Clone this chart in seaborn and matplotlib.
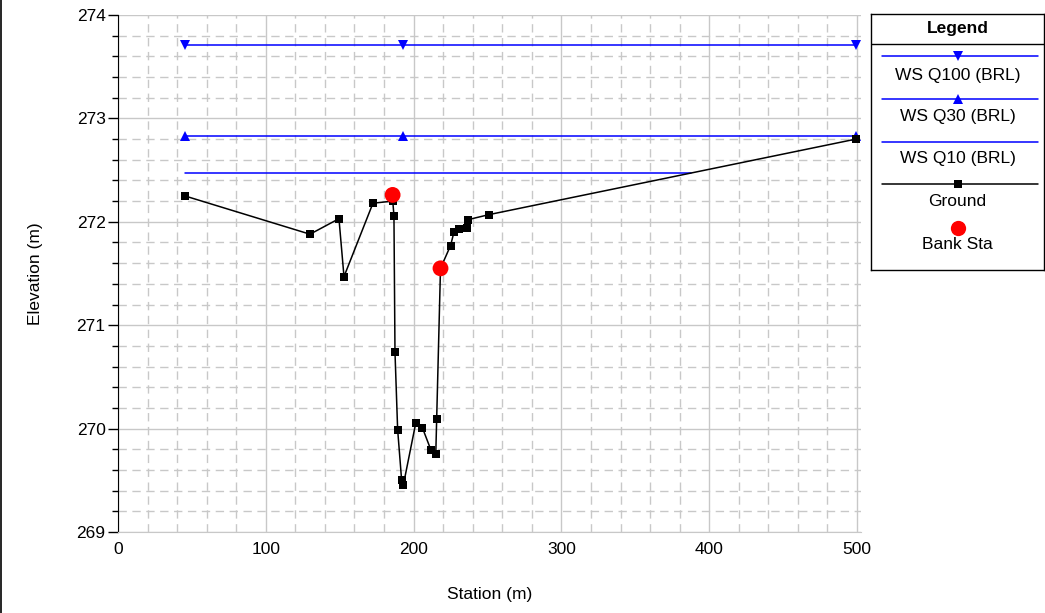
"""Cross section plot: ground profile, bank stations and water surfaces."""

import matplotlib
matplotlib.use("Agg")
import numpy as np
import pandas as pd
import matplotlib.pyplot as plt
import seaborn as sns
from matplotlib.ticker import MultipleLocator

# ground profile
ground_sta = [45.3, 129.9, 149.5, 152.9, 172.5, 185.9, 186.7, 187.4, 189.2, 191.9,
              193.0, 201.4, 205.9, 211.8, 215.0, 215.6, 218.2, 225.0, 227.3, 230.9,
              235.9, 236.6, 251.2, 499.3]
ground_elev = [272.25, 271.88, 272.03, 271.47, 272.18, 272.20, 272.06, 270.74, 269.99, 269.50,
               269.45, 270.05, 270.01, 269.79, 269.75, 270.09, 271.55, 271.77, 271.90, 271.93,
               271.94, 272.02, 272.07, 272.80]

# bank stations
bank_sta = [185.8, 218.2]
bank_elev = [272.26, 271.55]

# water surfaces
ws_q100_sta = [45.3, 192.8, 499.3]
ws_q100_elev = [273.71, 273.71, 273.71]
ws_q30_sta = [45.3, 192.8, 499.3]
ws_q30_elev = [272.83, 272.83, 272.83]
ws_q10_sta = [45.3, 387.9]
ws_q10_elev = [272.47, 272.47]

legend_labels = ["WS Q100 (BRL)", "WS Q30 (BRL)", "WS Q10 (BRL)", "Ground", "Bank Sta"]

sns.set_style("white")
plt.rcParams["font.family"] = ["Liberation Sans", "DejaVu Sans"]
plt.rcParams["text.color"] = "black"
plt.rcParams["axes.labelcolor"] = "black"
plt.rcParams["xtick.color"] = "black"
plt.rcParams["ytick.color"] = "black"
FS = 12.5

ground = pd.DataFrame({"sta": ground_sta, "elev": ground_elev})
bank = pd.DataFrame({"sta": bank_sta, "elev": bank_elev})
q100 = pd.DataFrame({"sta": ws_q100_sta, "elev": ws_q100_elev})
q30 = pd.DataFrame({"sta": ws_q30_sta, "elev": ws_q30_elev})
q10 = pd.DataFrame({"sta": ws_q10_sta, "elev": ws_q10_elev})

fig = plt.figure(figsize=(10.45, 6.13), dpi=100)
ax = fig.add_axes([118 / 1045, 1 - 532 / 613, (861 - 118) / 1045, (532 - 15) / 613])

blue = "#0000ff"
sns.lineplot(data=q100, x="sta", y="elev", ax=ax, color=blue, lw=1.1, marker="v",
             markersize=7, markeredgewidth=0, estimator=None, sort=False, zorder=3)
sns.lineplot(data=q30, x="sta", y="elev", ax=ax, color=blue, lw=1.1, marker="^",
             markersize=7, markeredgewidth=0, estimator=None, sort=False, zorder=3)
sns.lineplot(data=q10, x="sta", y="elev", ax=ax, color=blue, lw=1.1,
             estimator=None, sort=False, zorder=3)
sns.lineplot(data=ground, x="sta", y="elev", ax=ax, color="black", lw=1.1, marker="s",
             markersize=6.2, markeredgewidth=0, estimator=None, sort=False, zorder=4)
sns.scatterplot(data=bank, x="sta", y="elev", ax=ax, color="red", s=130,
                edgecolor="none", zorder=5)

ax.set_xlim(0, 502.7)
ax.set_ylim(269, 274)
ax.xaxis.set_major_locator(MultipleLocator(100))
ax.xaxis.set_minor_locator(MultipleLocator(20))
ax.yaxis.set_major_locator(MultipleLocator(1))
ax.yaxis.set_minor_locator(MultipleLocator(0.2))
ax.grid(which="major", color="#c8c8c8", lw=1.0)
ax.grid(which="minor", color="#c8c8c8", lw=1.0, ls=(0, (6, 4)))
ax.set_axisbelow(True)

for side in ["top", "right"]:
    ax.spines[side].set_visible(False)
ax.spines["left"].set_color("black")
ax.spines["bottom"].set_color("#c8c8c8")
ax.tick_params(axis="y", which="major", direction="out", length=7, width=1,
               color="black", labelsize=FS, left=True, pad=2)
ax.tick_params(axis="y", which="minor", direction="out", length=4, width=1,
               color="black", left=True)
ax.tick_params(axis="x", which="both", length=0, labelsize=FS, pad=7)
ax.set_xlabel("Station (m)", fontsize=FS, labelpad=22)
ax.set_ylabel("Elevation (m)", fontsize=FS, labelpad=24)

# legend box drawn as its own panel
lg = fig.add_axes([871 / 1045, 1 - 270 / 613, 173 / 1045, 256 / 613])
lg.set_xlim(0, 1)
lg.set_ylim(0, 1)
lg.set_xticks([])
lg.set_yticks([])
for sp in lg.spines.values():
    sp.set_color("black")
    sp.set_linewidth(1)
lg.text(0.5, 0.945, "Legend", ha="center", va="center", fontsize=FS, fontweight="bold")
lg.axhline(0.883, color="black", lw=1)

line_y = [0.836, 0.668, 0.5, 0.336]
text_y = [0.758, 0.598, 0.4375, 0.266, 0.098]
styles = [(blue, "v"), (blue, "^"), (blue, None), ("black", "s")]
for (c, m), yy in zip(styles, line_y):
    lg.plot([0.064, 0.965], [yy, yy], color=c, lw=1.1)
    if m is not None:
        lg.plot([0.5], [yy], color=c, marker=m, markersize=7 if m != "s" else 6.2,
                markeredgewidth=0, ls="none")
lg.plot([0.5], [0.164], color="red", marker="o", markersize=11,
        markeredgewidth=0, ls="none")
for lab, yy in zip(legend_labels, text_y):
    lg.text(0.5, yy, lab, ha="center", va="center", fontsize=FS)

# thin frame line along the figure's left edge
fig.add_artist(plt.Line2D([0.001, 0.001], [0, 1], color="black", lw=1.2,
                          transform=fig.transFigure))

fig.savefig("out.png", dpi=100)
